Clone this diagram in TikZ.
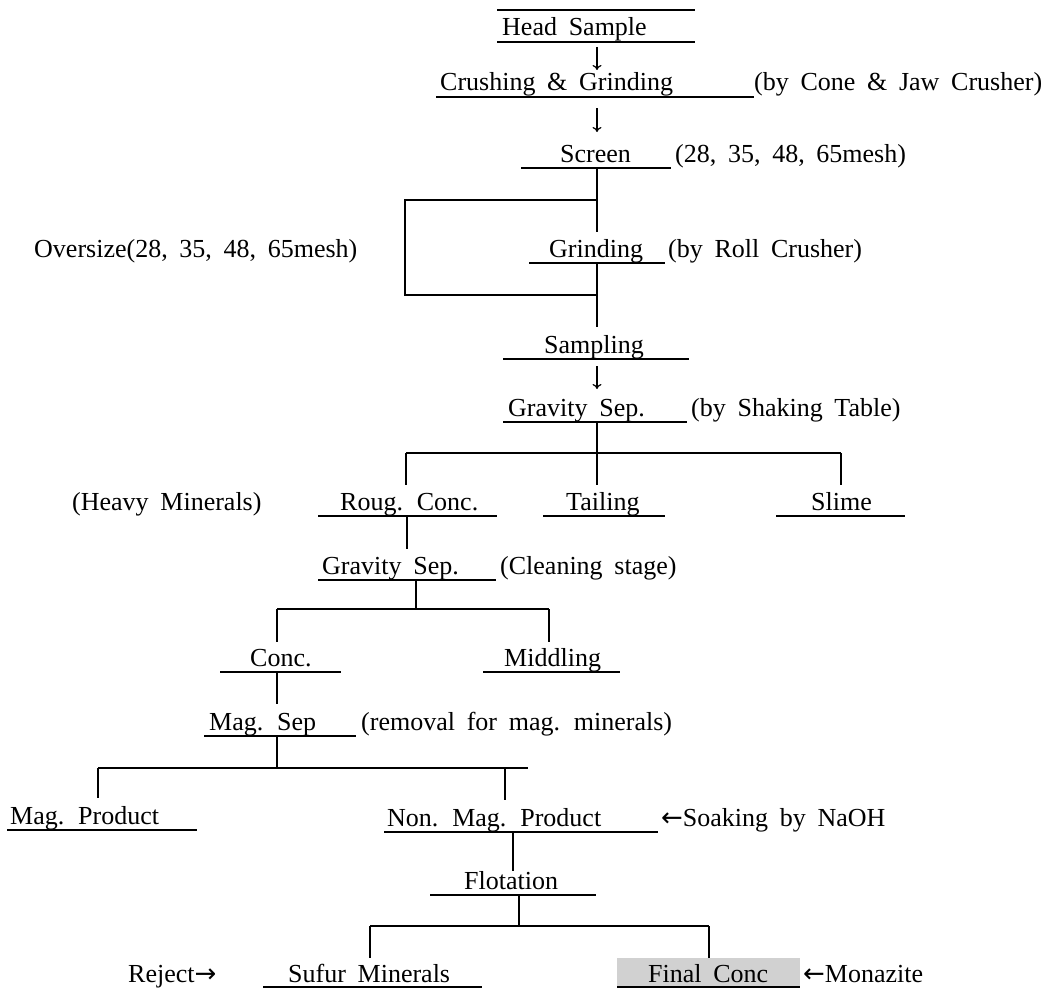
\documentclass[tikz,border=0pt]{standalone}
\usepackage{fontspec}
\setmainfont{Liberation Serif}[WordSpace=1.8]
\newfontfamily\arrowfont{DejaVu Sans}
\usetikzlibrary{arrows.meta}
\begin{document}
\begin{tikzpicture}[x=1pt,y=-1pt,
  lbl/.style={inner sep=0pt, anchor=base west, font=\fontsize{26}{30}\selectfont},
  ul/.style={line width=1.7pt},
  cn/.style={line width=1.2pt},
  arr/.style={line width=1.2pt, -{To[length=5pt,width=9pt]}},
  shade/.style={fill=black!18}]
\useasboundingbox (0,0) rectangle (1047,990);
% shading of final concentrate
\fill[shade] (617,958) rectangle (800,988);
% texts
\node[lbl] (hs) at (502,36) {Head Sample};
\node[lbl] (cg) at (440,91) {Crushing \& Grinding};
\node[lbl] (cgn) at (754,91) {(by Cone \& Jaw Crusher)};
\node[lbl] (sc) at (560,162) {Screen};
\node[lbl] (scn) at (675,162) {(28, 35, 48, 65mesh)};
\node[lbl] (ov) at (34,257) {Oversize(28, 35, 48, 65mesh)};
\node[lbl] (gr) at (549,257) {Grinding};
\node[lbl] (grn) at (668,257) {(by Roll Crusher)};
\node[lbl] (sa) at (544,353) {Sampling};
\node[lbl] (gs) at (508,416) {Gravity Sep.};
\node[lbl] (gsn) at (691,416) {(by Shaking Table)};
\node[lbl] (hm) at (72,510) {(Heavy Minerals)};
\node[lbl] (rc) at (340,510) {Roug. Conc.};
\node[lbl] (ta) at (566,510) {Tailing};
\node[lbl] (sl) at (811,510) {Slime};
\node[lbl] (gs2) at (322,574) {Gravity Sep.};
\node[lbl] (gs2n) at (500,574) {(Cleaning stage)};
\node[lbl] (co) at (250,666) {Conc.};
\node[lbl] (mi) at (504,666) {Middling};
\node[lbl] (ms) at (209,730) {Mag. Sep};
\node[lbl] (msn) at (361,730) {(removal for mag. minerals)};
\node[lbl] (mp) at (10,824) {Mag. Product};
\node[lbl] (nm) at (387,826) {Non. Mag. Product};
\node[lbl] (nmn) at (661,826) {{\arrowfont ←}Soaking by NaOH};
\node[lbl] (fl) at (464,889) {Flotation};
\node[lbl] (rj) at (128,982) {Reject{\arrowfont →}};
\node[lbl] (su) at (288,982) {Sufur Minerals};
\node[lbl] (fc) at (648,982) {Final Conc};
\node[lbl] (mo) at (803,982) {{\arrowfont ←}Monazite};
% underlines
\draw[ul] (497,10) -- (695,10);
\draw[ul] (497,42) -- (695,42);
\draw[ul] (436,97) -- (754,97);
\draw[ul] (521,168) -- (671,168);
\draw[ul] (529,263) -- (665,263);
\draw[ul] (503,359) -- (689,359);
\draw[ul] (503,422) -- (687,422);
\draw[ul] (318,516) -- (497,516);
\draw[ul] (543,516) -- (665,516);
\draw[ul] (776,516) -- (905,516);
\draw[ul] (318,580) -- (496,580);
\draw[ul] (220,672) -- (341,672);
\draw[ul] (483,672) -- (620,672);
\draw[ul] (204,736) -- (356,736);
\draw[ul] (7,830) -- (197,830);
\draw[ul] (384,832) -- (658,832);
\draw[ul] (430,895) -- (596,895);
\draw[ul] (263,987) -- (482,987);
\draw[ul] (617,987) -- (800,987);
% junction coordinates
\coordinate (a1) at (597,47);  \coordinate (a2) at (597,70);
\coordinate (b1) at (597,108); \coordinate (b2) at (597,132);
\coordinate (s0) at (597,168); \coordinate (s1) at (597,200); \coordinate (s2) at (597,232);
\coordinate (g0) at (597,263); \coordinate (g1) at (597,295); \coordinate (g2) at (597,327);
\coordinate (l1) at (405,200); \coordinate (l2) at (405,295);
\coordinate (c1) at (597,366); \coordinate (c2) at (597,389);
\coordinate (t0) at (597,422); \coordinate (t1) at (597,453);
\coordinate (tl) at (406,453); \coordinate (tr) at (841,453);
\coordinate (tle) at (406,485); \coordinate (tme) at (597,485); \coordinate (tre) at (841,485);
\coordinate (r0) at (407,516); \coordinate (r1) at (407,549);
\coordinate (u0) at (416,580); \coordinate (u1) at (416,609);
\coordinate (ul1) at (277,609); \coordinate (ur1) at (549,609);
\coordinate (ule) at (277,642); \coordinate (ure) at (549,642);
\coordinate (k0) at (277,672); \coordinate (k1) at (277,704);
\coordinate (m0) at (277,736); \coordinate (m1) at (277,768);
\coordinate (ml) at (98,768); \coordinate (mr) at (505,768); \coordinate (mx) at (528,768);
\coordinate (mle) at (98,798); \coordinate (mre) at (505,800);
\coordinate (n0) at (513,832); \coordinate (n1) at (513,871);
\coordinate (f0) at (519,895); \coordinate (f1) at (519,926);
\coordinate (fl1) at (370,926); \coordinate (fr1) at (709,926);
\coordinate (fle) at (370,958); \coordinate (fre) at (709,958);
% connectors
\draw[arr] (a1) -- (a2);
\draw[arr] (b1) -- (b2);
\draw[cn] (s0) -- (s2);
\draw[cn] (s1) -- (l1) -- (l2) -- (g1);
\draw[cn] (g0) -- (g2);
\draw[arr] (c1) -- (c2);
\draw[cn] (t0) -- (t1);
\draw[cn] (tl) -- (tr);
\draw[cn] (tl) -- (tle);
\draw[cn] (t1) -- (tme);
\draw[cn] (tr) -- (tre);
\draw[cn] (r0) -- (r1);
\draw[cn] (u0) -- (u1);
\draw[cn] (ul1) -- (ur1);
\draw[cn] (ul1) -- (ule);
\draw[cn] (ur1) -- (ure);
\draw[cn] (k0) -- (k1);
\draw[cn] (m0) -- (m1);
\draw[cn] (ml) -- (mx);
\draw[cn] (ml) -- (mle);
\draw[cn] (mr) -- (mre);
\draw[cn] (n0) -- (n1);
\draw[cn] (f0) -- (f1);
\draw[cn] (fl1) -- (fr1);
\draw[cn] (fl1) -- (fle);
\draw[cn] (fr1) -- (fre);
\end{tikzpicture}
\end{document}
